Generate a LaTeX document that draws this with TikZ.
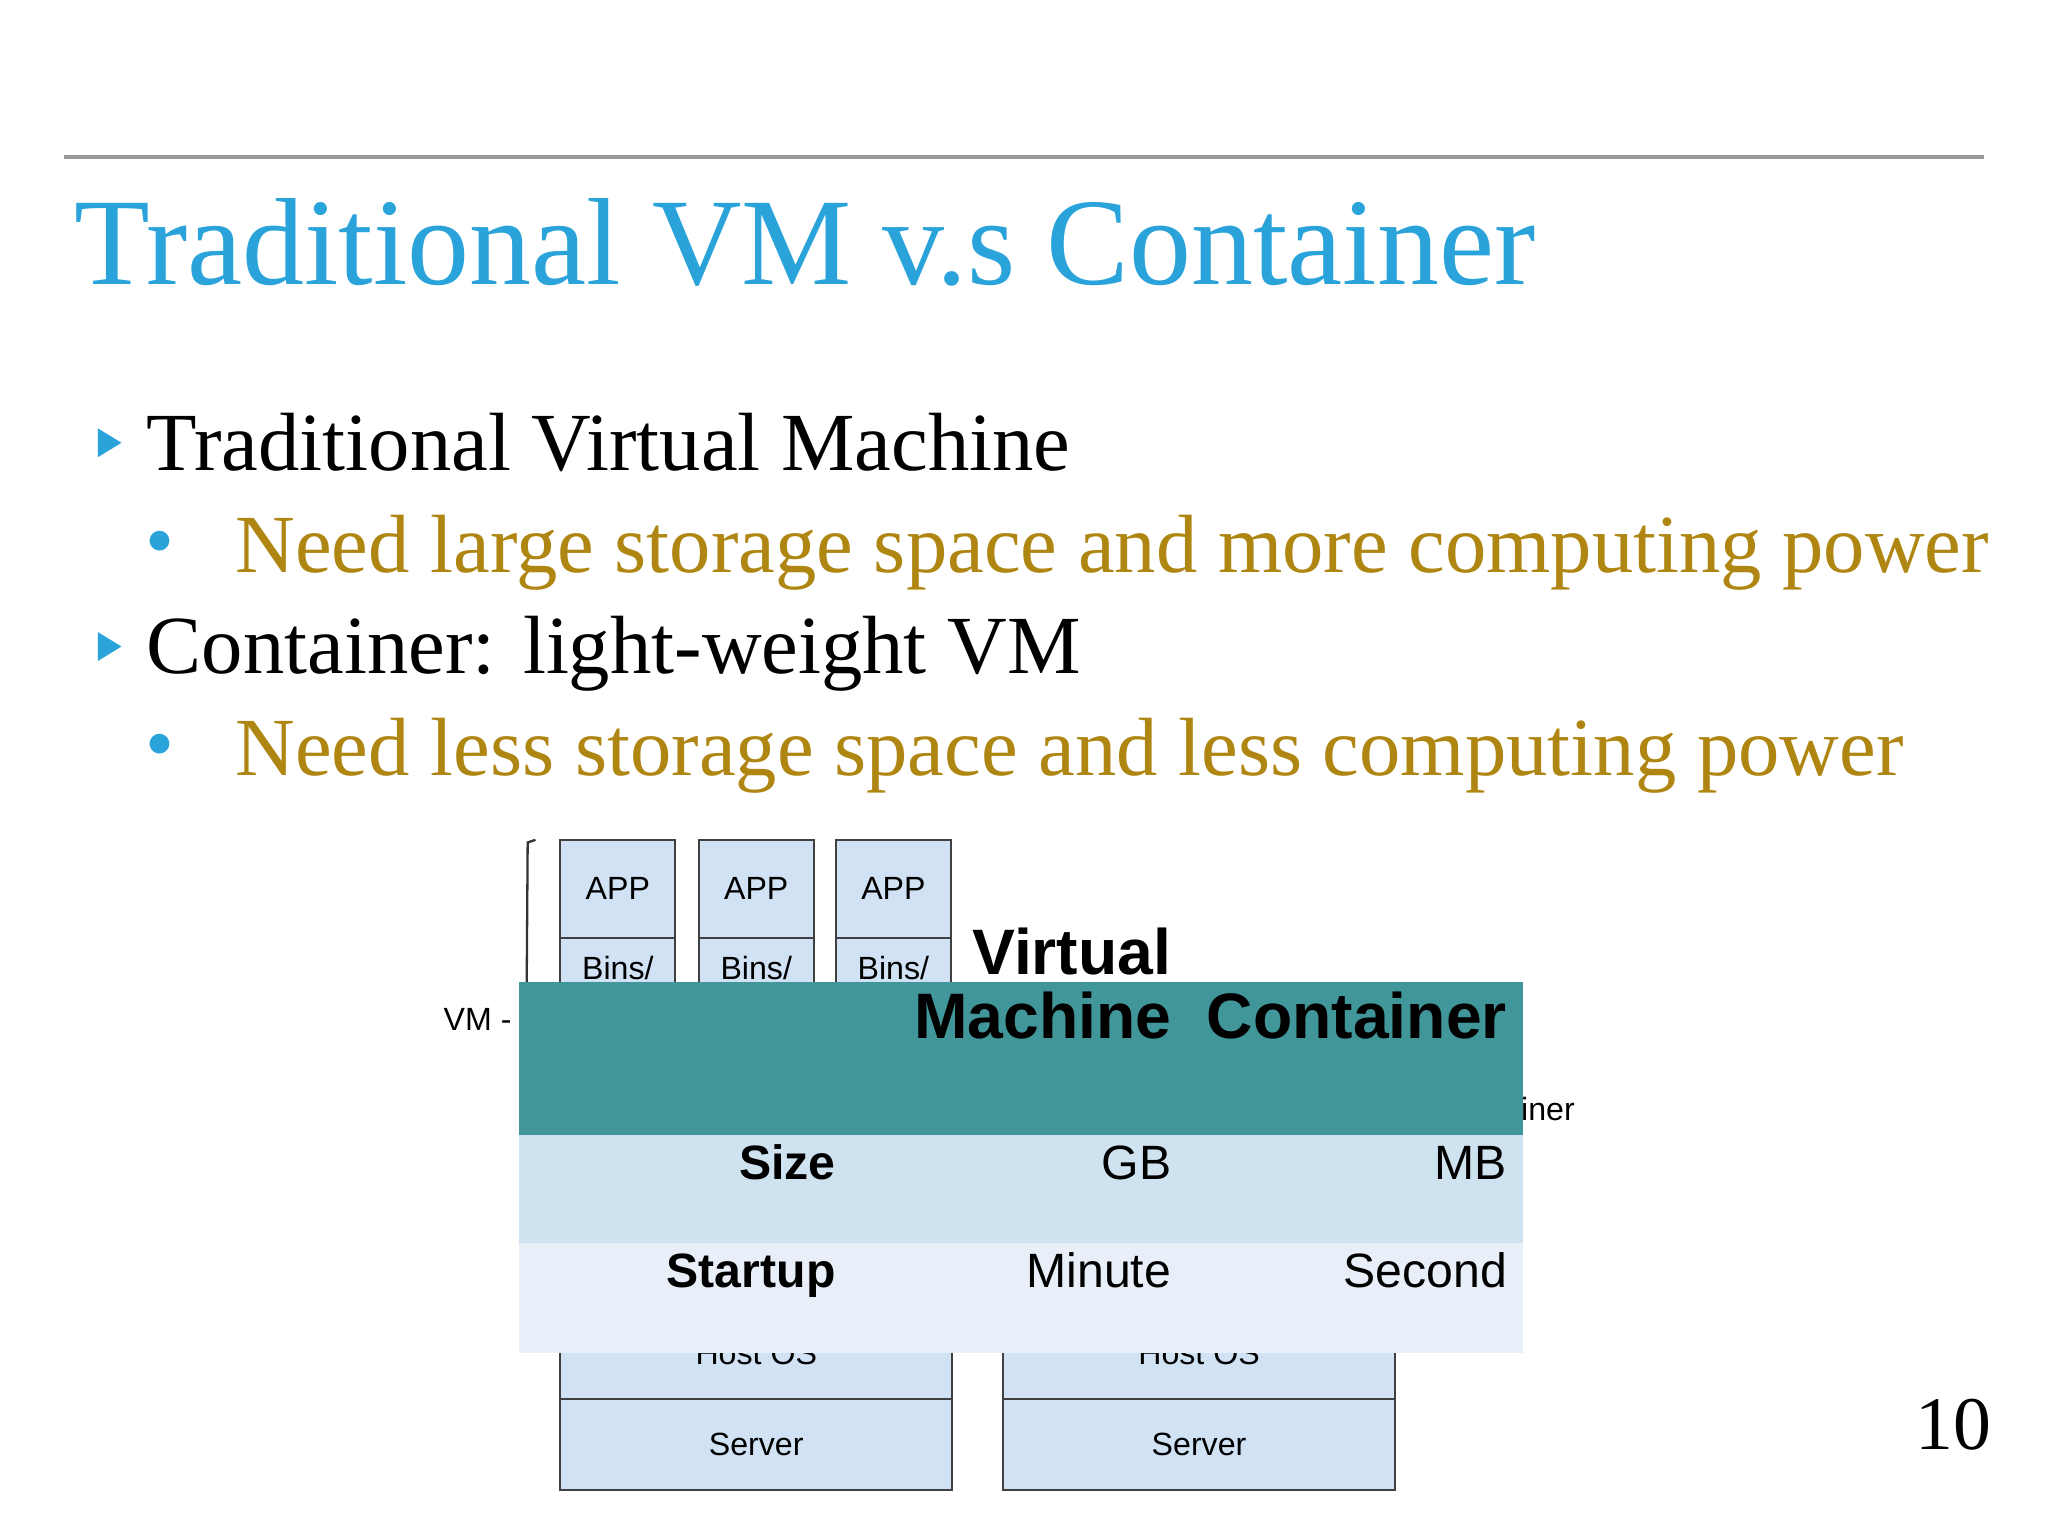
\documentclass[tikz,border=0pt]{standalone}
\usepackage{fontspec}
\setmainfont{Liberation Serif}
\newfontfamily\arial{Liberation Sans}
\definecolor{titleblue}{RGB}{41,163,218}
\definecolor{gold}{RGB}{176,134,18}
\definecolor{boxblue}{RGB}{208,226,243}
\definecolor{teal}{RGB}{64,150,152}
\definecolor{rowa}{RGB}{207,226,240}
\definecolor{rowb}{RGB}{232,239,248}
\begin{document}
\begin{tikzpicture}[x=0.02cm,y=-0.02cm,
  txt/.style={inner sep=0,anchor=base west},
  bx/.style={draw=black!75,line width=0.8pt,fill=boxblue},
  small/.style={inner sep=0,anchor=base,font=\arial\fontsize{14}{16}\selectfont},
  hd/.style={inner sep=0,anchor=base east,font=\arial\bfseries\fontsize{28}{28}\selectfont,align=right},
  cell/.style={inner sep=0,anchor=base east,font=\arial\fontsize{21}{24}\selectfont},
  bcell/.style={cell,font=\arial\bfseries\fontsize{21}{24}\selectfont}]
\useasboundingbox (0,0) rectangle (1568,1176);
\fill[white] (0,0) rectangle (1568,1176);
\draw[black!40,line width=1.6pt] (49,120) -- (1519,120);
\node[txt,text=titleblue,font=\fontsize{54}{60}\selectfont] (title) at (57,218) {Traditional VM v.s Container};
% bullets
\fill[titleblue] (75,328) -- (93,339) -- (75,350) -- cycle;
\node[txt,font=\fontsize{36}{40}\selectfont] (b1) at (112,360) {Traditional Virtual Machine};
\node[txt,text=titleblue,font=\fontsize{36}{40}\selectfont] (d1) at (111,435) {•};
\node[txt,text=gold,font=\fontsize{36}{40}\selectfont] (s1) at (180,438) {Need large storage space and more computing power};
\fill[titleblue] (75,484) -- (93,495) -- (75,506) -- cycle;
\node[txt,font=\fontsize{36}{40}\selectfont] (b2) at (112,516) {Container: light-weight VM};
\node[txt,text=titleblue,font=\fontsize{36}{40}\selectfont] (d2) at (111,591) {•};
\node[txt,text=gold,font=\fontsize{36}{40}\selectfont] (s2) at (180,594) {Need less storage space and less computing power};
\node[txt,font=\fontsize{33}{36}\selectfont] (pg) at (1466,1110) {10};
% underlying diagram
\foreach \x/\n in {429/a,535/b,640/c}{
  \draw[bx] (\x,643) rectangle ++(88,75);
  \node[small] (app\n) at (\x+44,689) {APP};
  \draw[bx] (\x,718) rectangle ++(88,75);
  \node[small] (bins\n) at (\x+44,750) {Bins/};
}
\draw[black!80,line width=1pt] (410,643) -- (404,645) -- (403,790);
\node[inner sep=0,anchor=base east,font=\arial\fontsize{14}{16}\selectfont] (vm) at (392,789) {VM -};
\node[inner sep=0,anchor=base east,font=\arial\fontsize{14}{16}\selectfont] (ct) at (1206,858) {Container};
\draw[bx] (429,1000) rectangle (729,1071);
\node[small] (hos1) at (579,1045) {Host OS};
\draw[bx] (768,1000) rectangle (1068,1071);
\node[small] (hos2) at (918,1045) {Host OS};
\draw[bx] (429,1071) rectangle (729,1141);
\node[small] (srv1) at (579,1114) {Server};
\draw[bx] (768,1071) rectangle (1068,1141);
\node[small] (srv2) at (918,1114) {Server};
% table
\fill[teal] (397,752) rectangle (1166,869);
\fill[rowa] (397,869) rectangle (1166,952);
\fill[rowb] (397,952) rectangle (1166,1036);
\node[hd] (hvm) at (897,795) {Virtual\\Machine};
\node[hd] (hct) at (1154,795) {Container};
\node[bcell] (size) at (640,903) {Size};
\node[cell] (gb) at (897,903) {GB};
\node[cell] (mb) at (1154,903) {MB};
\node[bcell] (st) at (640,986) {Startup};
\node[cell] (mi) at (897,986) {Minute};
\node[cell] (se) at (1154,986) {Second};
\end{tikzpicture}
\end{document}
